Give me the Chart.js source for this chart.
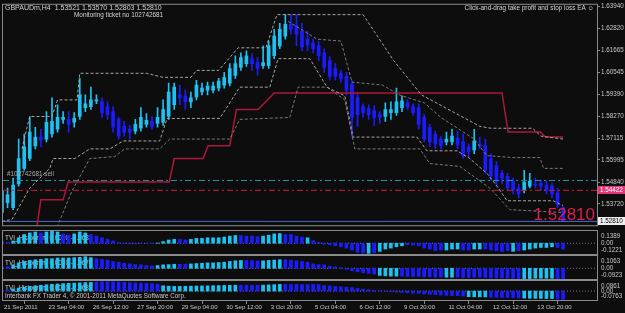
<!DOCTYPE html>
<html>
<head>
<meta charset="utf-8">
<title>GBPAUDm,H4</title>
<script src="https://cdn.jsdelivr.net/npm/chart.js@4.4.1/dist/chart.umd.min.js"></script>
<style>
    html, body { margin: 0; padding: 0; background: #0d0d0d; }
    body { position: relative; width: 625px; height: 313px; overflow: hidden; }
    .pane { position: absolute; left: 0; width: 625px; }
    #mainPane { top: 0; height: 230px; }
    #tvi1Pane { top: 230px; height: 25px; }
    #tvi2Pane { top: 255px; height: 25px; }
    #tvi3Pane { top: 280px; height: 33px; }
</style>
</head>
<body>
<div class="pane" id="mainPane"><canvas id="mainChart"></canvas></div>
<div class="pane" id="tvi1Pane"><canvas id="tvi1Chart"></canvas></div>
<div class="pane" id="tvi2Pane"><canvas id="tvi2Chart"></canvas></div>
<div class="pane" id="tvi3Pane"><canvas id="tvi3Chart"></canvas></div>
<script>
// H4 bars, 21 Sep 16:00 .. 14 Oct 16:00
const barOpen = [1.5327,1.5378,1.5352,1.5475,1.5556,1.5607,1.5673,1.5718,1.5708,1.5734,
    1.5759,1.5810,1.5810,1.5795,1.5825,1.5871,1.5876,1.5906,1.5901,1.5876,
    1.5850,1.5810,1.5774,1.5759,1.5749,1.5764,1.5784,1.5800,1.5789,1.5795,
    1.5825,1.5886,1.5937,1.5932,1.5901,1.5927,1.5952,1.5962,1.5962,1.5972,
    1.5988,1.5998,1.6038,1.6079,1.6099,1.6125,1.6104,1.6089,1.6089,1.6140,
    1.6191,1.6242,1.6303,1.6297,1.6267,1.6226,1.6206,1.6191,1.6155,1.6115,
    1.6074,1.6049,1.6033,1.5993,1.5922,1.5876,1.5866,1.5856,1.5835,1.5825,
    1.5845,1.5845,1.5871,1.5896,1.5876,1.5871,1.5820,1.5769,1.5734,1.5708,
    1.5693,1.5693,1.5713,1.5693,1.5668,1.5652,1.5678,1.5673,1.5607,1.5571,
    1.5530,1.5515,1.5490,1.5454,1.5444,1.5464,1.5475,1.5480,1.5469,1.5464,
    1.5429,1.53521];
const barHigh = [1.5464,1.5454,1.5505,1.5708,1.5734,1.5825,1.5769,1.5759,1.5850,1.5922,
    1.5886,1.5850,1.5850,1.5845,1.6023,1.5937,1.5977,1.5937,1.5922,1.5901,
    1.5876,1.5820,1.5800,1.5779,1.5810,1.5871,1.5840,1.5825,1.5871,1.5911,
    1.5998,1.5998,1.5988,1.5962,1.5952,1.6013,1.5998,1.6003,1.6003,1.6023,
    1.6054,1.6099,1.6140,1.6155,1.6165,1.6150,1.6130,1.6191,1.6216,1.6277,
    1.6308,1.6353,1.6353,1.6353,1.6308,1.6267,1.6226,1.6216,1.6176,1.6135,
    1.6099,1.6064,1.6054,1.6013,1.5947,1.5891,1.5886,1.5881,1.5850,1.5896,
    1.5901,1.5972,1.5932,1.5911,1.5891,1.5891,1.5835,1.5784,1.5749,1.5723,
    1.5744,1.5759,1.5749,1.5734,1.5683,1.5759,1.5718,1.5708,1.5632,1.5591,
    1.5546,1.5530,1.5505,1.5475,1.5546,1.5530,1.5505,1.5495,1.5490,1.5480,
    1.5454,1.53570];
const barLow = [1.5312,1.5352,1.5342,1.5464,1.5546,1.5596,1.5657,1.5668,1.5693,1.5718,
    1.5744,1.5789,1.5744,1.5769,1.5810,1.5850,1.5861,1.5891,1.5820,1.5810,
    1.5744,1.5708,1.5723,1.5708,1.5734,1.5749,1.5769,1.5759,1.5769,1.5779,
    1.5810,1.5861,1.5886,1.5861,1.5871,1.5911,1.5937,1.5937,1.5947,1.5957,
    1.5972,1.5983,1.6023,1.6064,1.6084,1.6064,1.6038,1.6074,1.6074,1.6125,
    1.6176,1.6226,1.6252,1.6191,1.6165,1.6165,1.6155,1.6115,1.6054,1.6013,
    1.6013,1.6003,1.5937,1.5723,1.5774,1.5820,1.5810,1.5779,1.5789,1.5800,
    1.5810,1.5830,1.5850,1.5861,1.5830,1.5759,1.5693,1.5668,1.5657,1.5657,
    1.5678,1.5678,1.5657,1.5607,1.5617,1.5632,1.5657,1.5530,1.5495,1.5464,
    1.5475,1.5439,1.5424,1.5403,1.5429,1.5454,1.5454,1.5444,1.5424,1.5403,
    1.5352,1.52803];
const barClose = [1.5439,1.5419,1.5469,1.5607,1.5668,1.5744,1.5718,1.5703,1.5795,1.5800,
    1.5820,1.5820,1.5784,1.5815,1.5937,1.5891,1.5911,1.5911,1.5845,1.5835,
    1.5769,1.5723,1.5744,1.5744,1.5784,1.5820,1.5805,1.5774,1.5820,1.5861,
    1.5952,1.5977,1.5922,1.5901,1.5922,1.5988,1.5972,1.5983,1.5983,1.6008,
    1.6028,1.6074,1.6099,1.6130,1.6140,1.6099,1.6074,1.6104,1.6191,1.6242,
    1.6277,1.6303,1.6277,1.6252,1.6186,1.6196,1.6176,1.6140,1.6079,1.6033,
    1.6033,1.6023,1.5962,1.5820,1.5835,1.5845,1.5835,1.5820,1.5820,1.5861,
    1.5861,1.5901,1.5906,1.5876,1.5845,1.5784,1.5708,1.5693,1.5683,1.5673,
    1.5708,1.5723,1.5678,1.5622,1.5642,1.5698,1.5673,1.5546,1.5515,1.5490,
    1.5505,1.5454,1.5444,1.5424,1.5485,1.5490,1.5469,1.5464,1.5439,1.5424,
    1.5368,1.52810];

// channel lines, [bar index, price] at each break
const bandUpperOuter = [[3.6,1.5657],[4.5,1.5769],[5,1.5825],[9,1.5825],[10,1.5911],[13.5,1.5911],
    [14,1.6049],[26,1.6049],[29,1.6028],[34,1.6028],[35,1.6064],[39,1.6064],[42.5,1.6181],
    [47.5,1.6181],[49.5,1.6353],[65,1.6353],[70.5,1.6115],[75.5,1.5937],[86,1.5774],
    [88,1.5764],[95.5,1.5764],[97,1.5723],[101,1.5708]];
const bandUpperInner = [[51.5,1.6318],[53,1.6292],[56.7,1.6226],[61,1.6216],[63,1.6003],
    [68.5,1.5988],[71.5,1.5937],[76,1.5896],[79,1.5820],[85,1.5708],[87.3,1.5622],
    [92,1.5612],[96.8,1.5612],[97.5,1.5556],[101,1.5556]];
const bandLowerInner = [[0,1.5281],[1.8,1.5291],[5,1.5454],[8.6,1.5556],[9.2,1.5607],[13.1,1.5607],
    [15.8,1.5657],[19.4,1.5657],[21.8,1.5698],[28.4,1.5698],[29.7,1.5815],[39.2,1.5815],
    [42.8,1.5977],[48.2,1.5977],[49.7,1.6125],[55.4,1.6125],[58.5,1.5977],[61.7,1.5932],
    [63.2,1.5718],[74.7,1.5718],[76.5,1.5647],[81.9,1.5647],[84.2,1.5607],[87.3,1.5530],
    [89.1,1.5464],[90.9,1.5388],[99.2,1.5388],[101,1.5363]];
const bandLowerOuter = [[9.9,1.5251],[12.6,1.5439],[15.8,1.5607],[20.3,1.5617],[22.1,1.5657],
    [28.4,1.5657],[30.2,1.5708],[41,1.5708],[42.8,1.5810],[51.8,1.5820],[53.3,1.5977],
    [58.5,1.5977],[61.7,1.5911],[63.5,1.5657],[75.2,1.5657],[77,1.5581],[82.4,1.5566],
    [87.8,1.5454],[91.4,1.5342],[101,1.5327]];
const stopTrail = [[6.2,1.5241],[7,1.5393],[11,1.5393],[11.9,1.5485],[30.1,1.5485],[31,1.5607],
    [36.2,1.5607],[37.1,1.5673],[41,1.5673],[42.2,1.5861],[46.1,1.5861],[49,1.5947],
    [90,1.5947],[91.1,1.5744],[96.9,1.5744],[97.8,1.5718],[101,1.5718]];

const sellPrice = 1.5493;
const stopPrice = 1.54422;
const bidPrice = 1.52810;

const priceTicks = [1.63940, 1.62820, 1.61665, 1.60545, 1.59390, 1.58270, 1.57115, 1.55995, 1.54840, 1.53720];
const timeTickIdx = [0, 8, 16, 24, 32, 40, 48, 56, 64, 72, 80, 88, 96];
const timeLabels = ['21 Sep 2011', '23 Sep 04:00', '26 Sep 12:00', '27 Sep 20:00', '29 Sep 04:00',
    '30 Sep 12:00', '3 Oct 20:00', '5 Oct 04:00', '6 Oct 12:00', '9 Oct 20:00',
    '11 Oct 04:00', '12 Oct 12:00', '13 Oct 20:00'];

// TVI histograms: value per bar, c = rising buffer, b = falling buffer
const tvi1Values = [0.018,0.007,0.026,0.062,0.099,0.117,0.128,0.117,0.128,0.136,
    0.128,0.106,0.092,0.106,0.128,0.117,0.099,0.081,0.062,0.044,
    0.026,0.007,-0.004,-0.007,-0.007,-0.004,-0.002,-0.004,0.002,0.018,
    0.037,0.044,0.044,0.037,0.044,0.055,0.055,0.062,0.062,0.062,
    0.070,0.081,0.088,0.088,0.081,0.081,0.073,0.081,0.092,0.106,
    0.110,0.099,0.099,0.081,0.070,0.062,0.030,0.010,-0.011,-0.018,
    -0.029,-0.040,-0.055,-0.077,-0.103,-0.110,-0.115,-0.110,-0.092,-0.066,
    -0.055,-0.040,-0.029,-0.018,-0.022,-0.029,-0.055,-0.066,-0.084,-0.077,
    -0.077,-0.066,-0.066,-0.077,-0.077,-0.066,-0.066,-0.066,-0.077,-0.084,
    -0.092,-0.084,-0.092,-0.084,-0.077,-0.066,-0.055,-0.048,-0.048,-0.040,
    -0.048,-0.066];
const tvi1Dirs = 'bbcccccbcc' + 'cbbcccbbbb' + 'bbbbbbbbcc' + 'ccbbcccccc' + 'cccbbbbccc' +
    'cbbbbcbbbb' + 'bbbbbbcbcc' + 'cccbbbbbbb' + 'cccbbccbbb' + 'bbcbcccccc' + 'bb';
const tvi2Values = [0.009,0.015,0.030,0.047,0.059,0.068,0.074,0.077,0.083,0.083,
    0.089,0.089,0.089,0.092,0.095,0.100,0.092,0.083,0.077,0.071,
    0.059,0.053,0.044,0.038,0.032,0.030,0.024,0.021,0.024,0.030,
    0.032,0.035,0.035,0.035,0.038,0.041,0.044,0.047,0.047,0.050,
    0.053,0.059,0.065,0.068,0.068,0.068,0.065,0.065,0.068,0.071,
    0.074,0.074,0.071,0.065,0.059,0.053,0.038,0.032,0.030,0.018,
    0.012,0.006,-0.009,-0.021,-0.030,-0.038,-0.044,-0.050,-0.062,-0.065,
    -0.068,-0.068,-0.068,-0.071,-0.071,-0.071,-0.074,-0.074,-0.077,-0.077,
    -0.077,-0.077,-0.077,-0.080,-0.080,-0.077,-0.077,-0.080,-0.083,-0.083,
    -0.083,-0.086,-0.086,-0.089,-0.089,-0.089,-0.086,-0.086,-0.086,-0.086,
    -0.089,-0.089];
const tvi2Dirs = 'bbcccccccc' + 'cccccccbbb' + 'bbbbbbbbcc' + 'ccbbcccccc' + 'ccccbbbccc' +
    'cbbbbbbbbb' + 'bbbbbbbbcc' + 'ccbbbbbbbb' + 'ccbbbbbbbb' + 'bbbbcccccc' + 'bb';
const tvi3Values = [0.006,0.010,0.018,0.026,0.033,0.040,0.045,0.050,0.054,0.058,
    0.061,0.064,0.066,0.068,0.070,0.072,0.074,0.078,0.080,0.080,
    0.079,0.077,0.075,0.072,0.070,0.068,0.066,0.064,0.060,0.045,
    0.042,0.040,0.040,0.041,0.042,0.043,0.044,0.045,0.046,0.047,
    0.048,0.049,0.050,0.050,0.050,0.049,0.049,0.051,0.053,0.055,
    0.057,0.057,0.057,0.057,0.056,0.055,0.057,0.055,0.046,0.044,
    0.040,0.036,0.033,0.030,0.022,0.017,0.012,0.006,0.003,-0.002,
    -0.006,-0.009,-0.012,-0.015,-0.018,-0.020,-0.025,-0.028,-0.031,-0.034,
    -0.037,-0.039,-0.040,-0.042,-0.048,-0.049,-0.049,-0.050,-0.052,-0.054,
    -0.055,-0.056,-0.057,-0.058,-0.060,-0.062,-0.063,-0.063,-0.064,-0.064,
    -0.068,-0.072];
const tvi3Dirs = 'bbcccccccc' + 'cccccccbbb' + 'bbbbbbbbbc' + 'cccccccccc' + 'cccbbbbccc' +
    'cbbbbbbbbb' + 'bbbbbbbbbb' + 'bbbbbbbbbb' + 'bbbbccccbb' + 'bbbbcccccc' + 'bb';
const tvi1Range = [-0.1221, 0.1389];
const tvi2Range = [-0.0923, 0.1063];
const tvi3Range = [-0.0763, 0.0861];

const symbolTitle = 'GBPAUDm,H4  1.53521 1.53570 1.52803 1.52810';
const monitorText = 'Monitoring ticket no 102742681';
const eaText = 'Click-and-drag take profit and stop loss EA \u263A';
const orderText = '#102742681 sell';
const tviTitles = ['TVI_Histogram 0.0000 -0.0681', 'TVI_Histogram 0.0000 -0.0679', 'TVI_Histogram 0.0000 -0.0685'];
const copyrightText = 'Interbank FX Trader 4, \u00A9 2001-2011 MetaQuotes Software Corp.';

// ---- look ----
const bullColor = '#1fc0f2';
const bearColor = '#1b1bff';
const frameColor = '#8a8a8a';
const textColor = '#c8c8c8';
const FONT = '"Liberation Sans", Arial, sans-serif';
const xMin = 0.18, xMax = 107.1;
const priceMin = 1.52612, priceMax = 1.64042;

Chart.defaults.font.family = FONT;
Chart.defaults.animation = false;

const xIdx = barOpen.map((_, i) => i);
const candleColors = xIdx.map(i => barClose[i] >= barOpen[i] ? bullColor : bearColor);
const toPoints = pairs => pairs.map(p => ({x: p[0], y: p[1]}));
const flatLine = v => [{x: xMin, y: v}, {x: xMax, y: v}];

const framePlugin = {
    id: 'frame',
    afterDraw(chart) {
        const {ctx, chartArea: a} = chart;
        ctx.save();
        ctx.strokeStyle = frameColor;
        ctx.lineWidth = 1;
        ctx.strokeRect(a.left - 0.5, a.top - 0.5, a.right - a.left + 1, a.bottom - a.top + 1);
        ctx.restore();
    }
};

function lineSet(pairs, color, dash, width, order) {
    return {
        type: 'line', data: toPoints(pairs), borderColor: color, borderWidth: width || 1,
        borderDash: dash || [], pointRadius: 0, tension: 0, order: order || 0
    };
}

const mainTextPlugin = {
    id: 'mainText',
    afterDraw(chart) {
        const {ctx, scales: {y}} = chart;
        ctx.save();
        ctx.textBaseline = 'middle';
        ctx.fillStyle = '#d4d4d4';
        ctx.font = '7px ' + FONT;
        ctx.fillText(symbolTitle, 5, 8);
        ctx.font = '6.4px ' + FONT;
        ctx.fillText(monitorText, 74, 15);
        ctx.textAlign = 'right';
        ctx.fillText(eaText, 594, 8);
        ctx.textAlign = 'left';
        ctx.fillStyle = '#a8a8a8';
        ctx.fillText(orderText, 7, y.getPixelForValue(sellPrice) - 6);

        // big bid price
        ctx.font = '17px ' + FONT;
        ctx.fillStyle = '#dc1f4f';
        ctx.textAlign = 'right';
        ctx.textBaseline = 'alphabetic';
        ctx.fillText(bidPrice.toFixed(5), 595, y.getPixelForValue(bidPrice) - 1);

        // price tags on the axis
        ctx.font = '6.3px ' + FONT;
        ctx.textAlign = 'left';
        ctx.textBaseline = 'middle';
        let py = Math.round(y.getPixelForValue(stopPrice));
        ctx.fillStyle = '#e2357a';
        ctx.fillRect(598, py - 4, 27, 8);
        ctx.fillStyle = '#ffffff';
        ctx.fillText(stopPrice.toFixed(5), 600, py);
        py = Math.round(y.getPixelForValue(bidPrice));
        ctx.fillStyle = '#eeeeee';
        ctx.fillRect(598, py - 4, 27, 8);
        ctx.fillStyle = '#000000';
        ctx.fillText(bidPrice.toFixed(5), 600, py);
        ctx.restore();
    }
};

new Chart(document.getElementById('mainChart'), {
    type: 'bar',
    data: {
        datasets: [
            lineSet(bandUpperOuter, '#a6a6a6', [3, 2], 1, 0),
            lineSet(bandUpperInner, '#7a7a7a', [3, 2], 1, 0),
            lineSet(bandLowerInner, '#a6a6a6', [3, 2], 1, 0),
            lineSet(bandLowerOuter, '#7a7a7a', [3, 2], 1, 0),
            lineSet(stopTrail, '#b0163a', [], 1.5, 1),
            { type: 'line', data: flatLine(sellPrice), borderColor: '#1a93a6', borderWidth: 1.2,
              borderDash: [6, 3, 2, 3], pointRadius: 0, order: 2 },
            { type: 'line', data: flatLine(stopPrice), borderColor: '#c81e3c', borderWidth: 1,
              borderDash: [6, 3, 2, 3], pointRadius: 0, order: 2 },
            { type: 'line', data: flatLine(bidPrice), borderColor: '#4a6ad0', borderWidth: 1,
              pointRadius: 0, order: 2 },
            { data: xIdx.map(i => ({x: i, y: [barOpen[i], barClose[i]]})), backgroundColor: candleColors,
              barThickness: 3, minBarLength: 1, grouped: false, borderWidth: 0, order: 3 },
            { data: xIdx.map(i => ({x: i, y: [barLow[i], barHigh[i]]})), backgroundColor: candleColors,
              barThickness: 1, grouped: false, borderWidth: 0, order: 4 }
        ]
    },
    options: {
        responsive: true,
        maintainAspectRatio: false,
        layout: {padding: {left: 3, top: 3, right: 0, bottom: 2}},
        plugins: {legend: {display: false}, tooltip: {enabled: false}},
        scales: {
            x: {type: 'linear', min: xMin, max: xMax, offset: false, display: false},
            y: {
                position: 'right', min: priceMin, max: priceMax,
                afterBuildTicks: ax => { ax.ticks = priceTicks.map(v => ({value: v})); },
                afterFit: ax => { ax.width = 28; },
                ticks: {callback: v => v.toFixed(5), color: textColor, font: {size: 6.3}, padding: 1, autoSkip: false},
                grid: {drawOnChartArea: false, drawTicks: true, tickLength: 3, color: frameColor},
                border: {display: true, color: frameColor}
            }
        }
    },
    plugins: [framePlugin, mainTextPlugin]
});

function makePanel(canvasId, values, dirs, range, title, withTime) {
    const colors = dirs.split('').map(d => d === 'c' ? bullColor : bearColor);
    const textPlugin = {
        id: 'panelText',
        beforeDatasetsDraw(chart) {
            const {ctx, chartArea: a} = chart;
            ctx.save();
            ctx.font = '6.4px ' + FONT;
            ctx.fillStyle = textColor;
            ctx.textBaseline = 'middle';
            ctx.fillText(title, 5, a.top + 7);
            ctx.restore();
        },
        afterDraw(chart) {
            const {ctx, chartArea: a, scales: {y}} = chart;
            ctx.save();
            ctx.font = '6.3px ' + FONT;
            ctx.fillStyle = textColor;
            ctx.textBaseline = 'middle';
            const lx = a.right + 4;
            ctx.fillText(range[1].toFixed(4), lx, a.top + 5);
            ctx.fillText('0.00', lx, y.getPixelForValue(0));
            ctx.fillText(range[0].toFixed(4), lx, a.bottom - 4);
            if (withTime) {
                ctx.fillText(copyrightText, 5, a.bottom - 4);
            }
            ctx.restore();
        }
    };
    const xScale = withTime ? {
        type: 'linear', min: xMin, max: xMax, offset: false, position: 'bottom',
        afterBuildTicks: ax => { ax.ticks = timeTickIdx.map(v => ({value: v})); },
        afterFit: ax => { ax.height = 13; },
        ticks: {callback: (v, i) => timeLabels[i], color: textColor, font: {size: 6},
                align: 'start', labelOffset: 2, padding: 0, maxRotation: 0, minRotation: 0, autoSkip: false},
        grid: {drawOnChartArea: false, drawTicks: true, tickLength: 4, color: frameColor},
        border: {display: true, color: frameColor}
    } : {type: 'linear', min: xMin, max: xMax, offset: false, display: false};

    return new Chart(document.getElementById(canvasId), {
        type: 'bar',
        data: {
            datasets: [
                { data: values.map((v, i) => ({x: i, y: v})), backgroundColor: colors,
                  barThickness: 3, grouped: false, borderWidth: 0, order: 1 },
                { type: 'line', data: flatLine(0), borderColor: '#777777', borderWidth: 1,
                  borderDash: [1, 2], pointRadius: 0, order: 2 }
            ]
        },
        options: {
            responsive: true,
            maintainAspectRatio: false,
            layout: {padding: {left: 3, top: 1, right: 0, bottom: withTime ? 0 : 1}},
            plugins: {legend: {display: false}, tooltip: {enabled: false}},
            scales: {
                x: xScale,
                y: {
                    position: 'right', min: range[0], max: range[1],
                    afterFit: ax => { ax.width = 28; },
                    ticks: {display: false},
                    grid: {display: false},
                    border: {display: true, color: frameColor}
                }
            }
        },
        plugins: [framePlugin, textPlugin]
    });
}

makePanel('tvi1Chart', tvi1Values, tvi1Dirs, tvi1Range, tviTitles[0], false);
makePanel('tvi2Chart', tvi2Values, tvi2Dirs, tvi2Range, tviTitles[1], false);
makePanel('tvi3Chart', tvi3Values, tvi3Dirs, tvi3Range, tviTitles[2], true);
</script>
</body>
</html>
